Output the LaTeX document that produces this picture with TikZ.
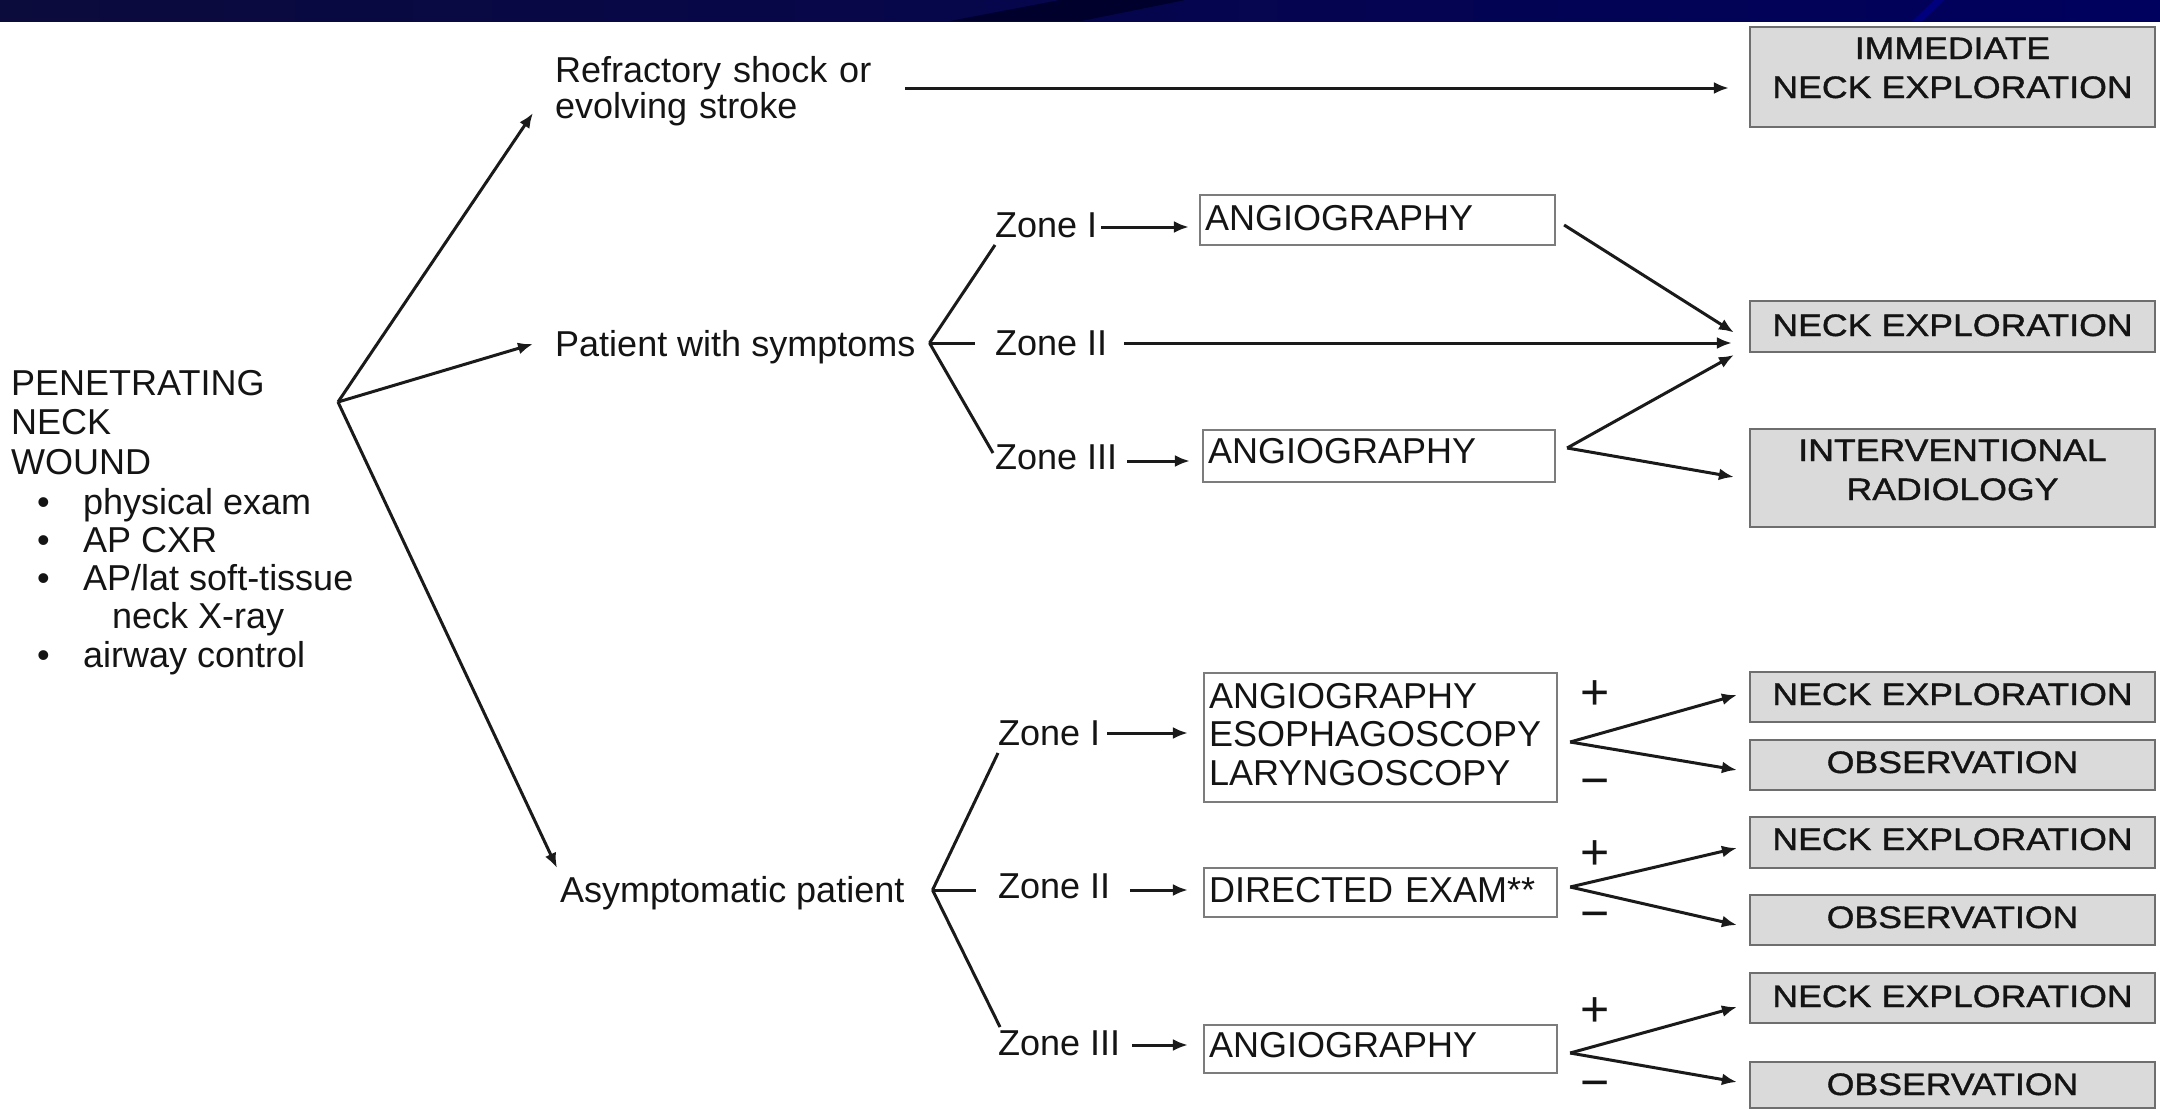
\documentclass[tikz,border=0pt]{standalone}
\usepackage{fontspec}
\setmainfont{Liberation Sans}
\newfontfamily\gfont[FakeStretch=1.15,FakeBold=1.2]{Liberation Sans}
\usetikzlibrary{arrows.meta,calc}
\definecolor{bandA}{HTML}{0B0B3C}
\definecolor{bandB}{HTML}{00005E}
\definecolor{bandS}{HTML}{00002C}
\definecolor{lc}{HTML}{1A1A1A}
\definecolor{tc}{HTML}{141414}
\definecolor{wb}{HTML}{7C7C7C}
\definecolor{gb}{HTML}{6E6E6E}
\definecolor{gf}{HTML}{DADADA}
\begin{document}
\begin{tikzpicture}[x=1pt,y=-1pt,
  txt/.style={inner sep=0pt,text=tc,font=\fontsize{36}{39.5}\selectfont},
  ln/.style={line width=3pt,draw=lc},
  arr/.style={ln,-{Latex[length=15pt,width=12pt]}},
  wbox/.style={draw=wb,line width=2.2pt,fill=white,text=tc,inner xsep=5pt,inner ysep=0pt,align=left,font=\fontsize{36}{38.5}\selectfont},
  gbox/.style={draw=gb,line width=2.2pt,fill=gf,text=tc,inner xsep=4pt,inner ysep=0pt,text width=397pt,align=center,font=\gfont\fontsize{31}{39}\selectfont},
  pm/.style={inner sep=0pt,text=tc,font=\fontsize{50}{50}\selectfont}]
\useasboundingbox (0,0) rectangle (2160,1109);
\fill[white] (0,0) rectangle (2160,1109);
% top band
\shade[left color=bandA,right color=bandB] (0,0) rectangle (2160,21);
\fill[bandS] (950,21) -- (1081,21) -- (1185,0) -- (1060,0) -- cycle;
\fill[bandB!80!blue] (1912,21) -- (1922,21) -- (1944,0) -- (1934,0) -- cycle;

% left block
\node[txt,text width=300pt,anchor=base west] (pnw) at (11,395) {PENETRATING\\NECK\\WOUND};
\node[txt,anchor=base west] (b1) at (37,514) {\makebox[46pt][l]{\textbullet}physical exam};
\node[txt,anchor=base west] (b2) at (37,552) {\makebox[46pt][l]{\textbullet}AP CXR};
\node[txt,anchor=base west] (b3) at (37,590) {\makebox[46pt][l]{\textbullet}AP/lat soft-tissue};
\node[txt,anchor=base west] (b3b) at (112,628) {neck X-ray};
\node[txt,anchor=base west] (b4) at (37,667) {\makebox[46pt][l]{\textbullet}airway control};
\coordinate (root) at (338,402);

% first-level texts
\node[txt,text width=330pt,anchor=base west,font=\fontsize{36}{36}\selectfont] (refr) at (555,82) {Refractory shock or\\evolving stroke};
\node[txt,anchor=base west] (pws) at (555,356) {Patient with symptoms};
\node[txt,anchor=base west] (asy) at (560,902) {Asymptomatic patient};

% gray boxes
\node[gbox,text height=32pt,text depth=68pt] (imm) at (1952.5,77) {IMMEDIATE\\NECK EXPLORATION};
\node[gbox,text height=35pt,text depth=16pt] (ne0) at (1952.5,326.5) {NECK EXPLORATION};
\node[gbox,text height=32pt,text depth=66pt] (ir) at (1952.5,478) {INTERVENTIONAL\\RADIOLOGY};
\node[gbox,text height=33pt,text depth=17pt] (ne1) at (1952.5,697) {NECK EXPLORATION};
\node[gbox,text height=33pt,text depth=17pt] (ob1) at (1952.5,765) {OBSERVATION};
\node[gbox,text height=33pt,text depth=18pt] (ne2) at (1952.5,842.5) {NECK EXPLORATION};
\node[gbox,text height=33pt,text depth=17pt] (ob2) at (1952.5,920) {OBSERVATION};
\node[gbox,text height=34pt,text depth=16pt] (ne3) at (1952.5,998) {NECK EXPLORATION};
\node[gbox,text height=33pt,text depth=13pt] (ob3) at (1952.5,1085) {OBSERVATION};

% white boxes
\node[wbox,text width=345pt,text height=35pt,text depth=15pt] (as1) at (1377.5,220) {ANGIOGRAPHY};
\node[wbox,text width=342pt,text height=33pt,text depth=19pt] (as3) at (1379,456) {ANGIOGRAPHY};
\node[wbox,text width=343pt,text height=35pt,text depth=94pt] (aa1) at (1380.5,737.5) {ANGIOGRAPHY\\ESOPHAGOSCOPY\\LARYNGOSCOPY};
\node[wbox,text width=343pt,text height=34pt,text depth=15pt] (da2) at (1380.5,892.5) {DIRECTED EXAM**};
\node[wbox,text width=343pt,text height=32pt,text depth=16pt] (aa3) at (1380.5,1049) {ANGIOGRAPHY};

% zone labels
\node[txt,anchor=base west] (zs1) at (995,237) {Zone I};
\node[txt,anchor=base west] (zs2) at (995,355) {Zone II};
\node[txt,anchor=base west] (zs3) at (995,469) {Zone III};
\node[txt,anchor=base west] (za1) at (998,745) {Zone I};
\node[txt,anchor=base west] (za2) at (998,898) {Zone II};
\node[txt,anchor=base west] (za3) at (998,1055) {Zone III};

% plus / minus
\node[pm] (p1) at (1595,695) {+};
\node[pm] (m1) at (1595,788) {−};
\node[pm] (p2) at (1595,855) {+};
\node[pm] (m2) at (1595,921) {−};
\node[pm] (p3) at (1595,1012) {+};
\node[pm] (m3) at (1595,1090) {−};

% connectors from the wound
\draw[arr] (root) -- ($(refr.base west)+(-22,31)$);
\draw[arr] (root) -- ($(pws.base west)+(-22,-12)$);
\draw[arr] (root) -- ($(asy.base west)+(-3,-34)$);

% refractory
\coordinate (rs) at ($(refr.base west)+(350,6)$);
\draw[arr,shorten >=20pt] (rs) -- (rs -| imm.west);

% symptomatic branch
\coordinate (pb) at ($(pws.base east)+(14,-13)$);
\draw[ln] (pb) -- ($(zs1.base west)+(0,8)$);
\draw[ln] (pb) -- ($(zs3.base west)+(-2,-16)$);
\draw[ln] (pb) -- ($(pb -| zs2.west)+(-20,0)$);
\coordinate (z1s) at ($(zs1.base east)+(4,-10)$);
\draw[arr,shorten >=10pt] (z1s) -- (z1s -| as1.west);
\coordinate (z2s) at ($(zs2.base east)+(17,-12)$);
\draw[arr,shorten >=17pt] (z2s) -- (z2s -| ne0.west);
\coordinate (z3s) at ($(zs3.base east)+(10,-8)$);
\draw[arr,shorten >=12pt] (z3s) -- (z3s -| as3.west);
\draw[arr] ($(as1.east)+(8,5)$) -- ($(ne0.west)+(-15,6)$);
\draw[arr] ($(as3.east)+(11,-8)$) -- ($(ne0.west)+(-15,28.5)$);
\draw[arr] ($(as3.east)+(11,-8)$) -- ($(ir.west)+(-15,-1)$);

% asymptomatic branch
\coordinate (ab) at ($(asy.base east)+(28,-12)$);
\draw[ln] (ab) -- ($(za1.base west)+(0,8)$);
\draw[ln] (ab) -- ($(za3.base west)+(2,-28)$);
\draw[ln] (ab) -- ($(ab -| za2.west)+(-22,0)$);
\coordinate (a1s) at ($(za1.base east)+(7,-12)$);
\draw[arr,shorten >=15pt] (a1s) -- (a1s -| aa1.west);
\coordinate (a2s) at ($(za2.base east)+(20,-8)$);
\draw[arr,shorten >=15pt] (a2s) -- (a2s -| da2.west);
\coordinate (a3s) at ($(za3.base east)+(12,-10)$);
\draw[arr,shorten >=15pt] (a3s) -- (a3s -| aa3.west);

\draw[arr] ($(aa1.east)+(12,4.5)$) -- ($(ne1.west)+(-12,-2)$);
\draw[arr] ($(aa1.east)+(12,4.5)$) -- ($(ob1.west)+(-12,5)$);
\draw[arr] ($(da2.east)+(12,-5.5)$) -- ($(ne2.west)+(-12,5.5)$);
\draw[arr] ($(da2.east)+(12,-5.5)$) -- ($(ob2.west)+(-12,5)$);
\draw[arr] ($(aa3.east)+(12,4)$) -- ($(ne3.west)+(-12,9)$);
\draw[arr] ($(aa3.east)+(12,4)$) -- ($(ob3.west)+(-12,-3)$);
\end{tikzpicture}
\end{document}
